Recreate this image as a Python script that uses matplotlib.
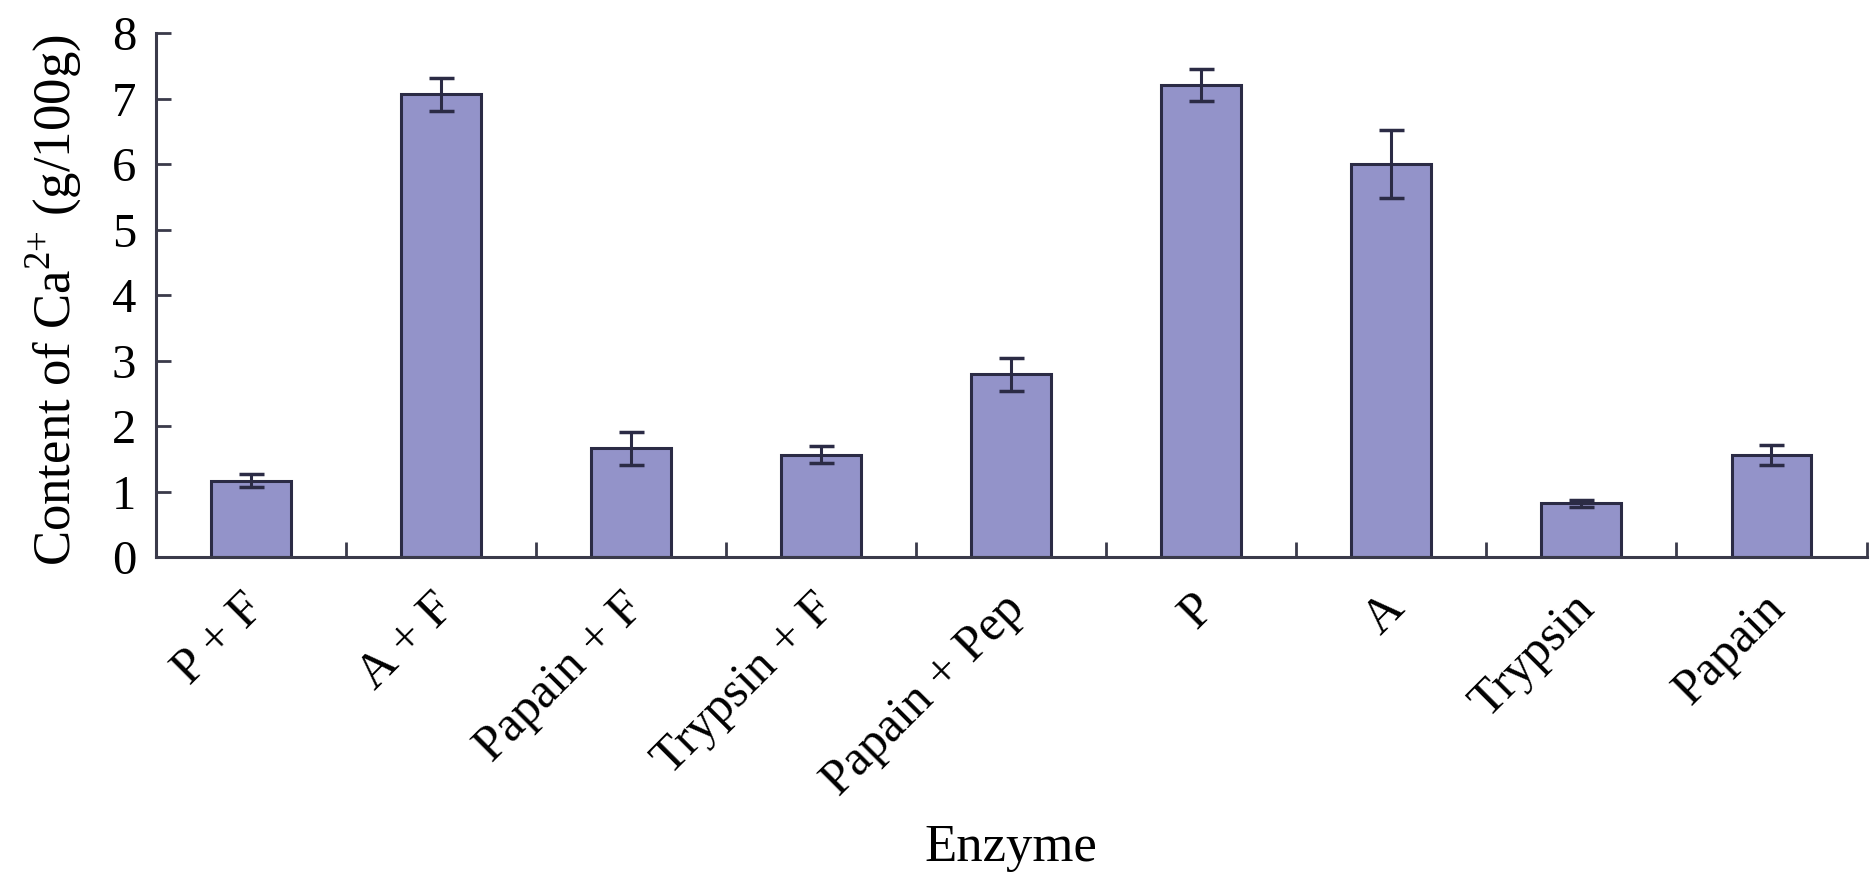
import matplotlib
matplotlib.use("Agg")
import matplotlib.pyplot as plt
import matplotlib.transforms as mtransforms
import numpy as np

# Ca2+ content by enzyme treatment
enzymes = ["P + F", "A + F", "Papain + F", "Trypsin + F", "Papain + Pep",
           "P", "A", "Trypsin", "Papain"]
ca_content = [1.17, 7.07, 1.66, 1.56, 2.79, 7.21, 6.00, 0.82, 1.56]
ca_err = [0.10, 0.25, 0.25, 0.13, 0.25, 0.24, 0.52, 0.06, 0.15]

plt.rcParams["font.family"] = ["Liberation Serif", "DejaVu Serif"]
plt.rcParams["mathtext.fontset"] = "custom"
plt.rcParams["mathtext.rm"] = "Liberation Serif"

fig = plt.figure(figsize=(18.74, 8.76), dpi=100)
ax = fig.add_axes([0.083, 0.364, 0.913, 0.598])

x = np.arange(len(enzymes))
ax.bar(x, ca_content, width=0.42, color="#9393c9", edgecolor="#2b2b45",
       linewidth=2.2, zorder=2)
ax.errorbar(x, ca_content, yerr=ca_err, fmt="none", ecolor="#2b2b45",
            elinewidth=2.2, capsize=9, capthick=2.5, zorder=3)

ax.set_xlim(-0.5, len(enzymes) - 0.5)
ax.set_ylim(0, 8)
ax.set_yticks(range(0, 9))

# boundary ticks between categories, labels at the bar centres
ax.set_xticks(np.arange(-0.5, len(enzymes), 1.0))
ax.set_xticklabels([])
ax.set_xticks(x, minor=True)
ax.set_xticklabels(enzymes, minor=True, rotation=45, ha="right",
                   rotation_mode="anchor", fontsize=36)
ax.tick_params(axis="x", which="minor", length=0, pad=20)
ax.tick_params(axis="x", which="major", direction="in", length=11, width=2,
               color="#3a3a4a")
ax.tick_params(axis="y", direction="in", length=11, width=2,
               color="#3a3a4a", labelsize=35, pad=14)

offset = mtransforms.ScaledTranslation(-0.1, 0, fig.dpi_scale_trans)
for lbl in ax.get_xticklabels(minor=True):
    lbl.set_transform(lbl.get_transform() + offset)

for side in ["top", "right"]:
    ax.spines[side].set_visible(False)
for side in ["left", "bottom"]:
    ax.spines[side].set_linewidth(2.2)
    ax.spines[side].set_color("#3a3a4a")

ax.set_ylabel(r"Content of Ca$^{2{+}}$ (g/100g)", fontsize=38)
ax.yaxis.set_label_coords(-0.042, 0.49)
ax.set_xlabel("Enzyme", fontsize=38)
ax.xaxis.set_label_coords(0.5, -0.51)

fig.savefig("out.png", dpi=100)
